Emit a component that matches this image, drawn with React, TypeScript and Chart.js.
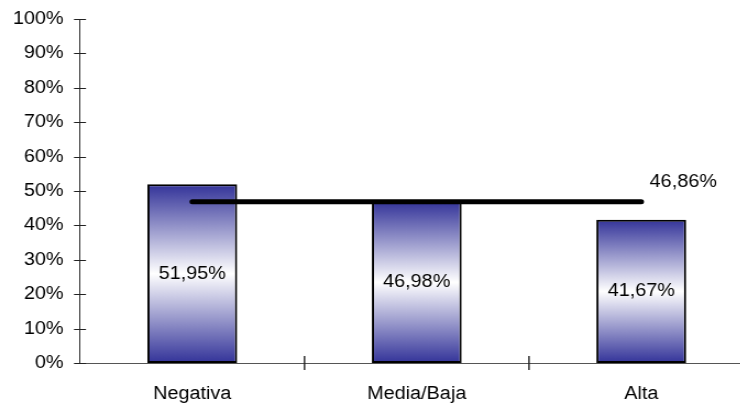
import React, { useEffect, useRef } from "react";
import { Chart, registerables } from "chart.js";

Chart.register(...registerables);

const categories = ["Negativa", "Media/Baja", "Alta"];
const values = [51.95, 46.98, 41.67];
const averageLine = [46.86, 46.86, 46.86];
const averageLabel = "46,86%";
const yTicks = [0, 10, 20, 30, 40, 50, 60, 70, 80, 90, 100];

const SX = 1.1; // horizontal stretch of the original picture
const FONT = "'Liberation Sans', Arial, sans-serif";

const fmt = (v: number) => v.toFixed(2).replace(".", ",") + "%";

export default function App() {
  const ref = useRef<HTMLCanvasElement | null>(null);

  useEffect(() => {
    const canvas = ref.current;
    if (!canvas) return;

    const gradientFill = (ctx: any) => {
      const chart = ctx.chart;
      const ys = chart.scales && chart.scales.y;
      if (!ys || ctx.raw == null) return "#333399";
      const p1 = ys.getPixelForValue(ctx.raw);
      const p0 = ys.getPixelForValue(0);
      const top = Math.min(p1, p0);
      const bot = Math.max(p1, p0);
      if (!isFinite(top) || !isFinite(bot) || bot - top < 1) return "#333399";
      const g = chart.ctx.createLinearGradient(0, top, 0, bot);
      g.addColorStop(0, "#333399");
      g.addColorStop(0.5, "#ffffff");
      g.addColorStop(1, "#333399");
      return g;
    };

    const decor = {
      id: "decor",
      afterDatasetsDraw(chart: any) {
        const ctx = chart.ctx;
        const x = chart.scales.x;
        const y = chart.scales.y;
        ctx.save();
        ctx.strokeStyle = "#222";
        ctx.lineWidth = 1;
        yTicks.forEach((t) => {
          const py = Math.round(y.getPixelForValue(t)) + 0.5;
          ctx.beginPath();
          ctx.moveTo(x.left - 6 / SX, py);
          ctx.lineTo(x.left + 6 / SX, py);
          ctx.stroke();
        });
        for (let i = 0; i < categories.length - 1; i++) {
          const px = (x.getPixelForValue(i) + x.getPixelForValue(i + 1)) / 2;
          ctx.beginPath();
          ctx.lineWidth = 1.4;
          ctx.moveTo(px, y.bottom - 7);
          ctx.lineTo(px, y.bottom + 7);
          ctx.stroke();
        }
        ctx.fillStyle = "#000";
        ctx.font = "18px " + FONT;
        ctx.textAlign = "center";
        ctx.textBaseline = "middle";
        const meta = chart.getDatasetMeta(0);
        meta.data.forEach((el: any, i: number) => {
          ctx.fillText(fmt(values[i]), el.x, (el.y + el.base) / 2);
        });
        const lm = chart.getDatasetMeta(1);
        const last = lm.data[lm.data.length - 1] as any;
        ctx.fillText(averageLabel, last.x + 42 / SX, last.y - 20);
        ctx.restore();
      },
    };

    const chart = new Chart(canvas, {
      type: "bar",
      data: {
        labels: categories,
        datasets: [
          {
            type: "bar",
            data: values,
            backgroundColor: gradientFill as any,
            borderColor: "#000",
            borderWidth: 2,
            borderSkipped: false,
            categoryPercentage: 1,
            barPercentage: 0.4,
            order: 1,
          },
          {
            type: "line",
            data: averageLine,
            borderColor: "#000",
            borderWidth: 5,
            borderCapStyle: "round",
            pointRadius: 0,
            fill: false,
            order: 0,
          } as any,
        ],
      },
      options: {
        responsive: false,
        maintainAspectRatio: false,
        devicePixelRatio: 1,
        animation: false,
        layout: { padding: { top: 19, right: 15, left: 0, bottom: 0 } },
        plugins: { legend: { display: false }, tooltip: { enabled: false } },
        scales: {
          x: {
            grid: { display: false, drawTicks: false },
            border: { display: true, color: "#555", width: 1 },
            ticks: {
              color: "#000",
              font: { family: FONT, size: 18 },
              padding: 20,
              maxRotation: 0,
            },
            afterFit(scale: any) {
              scale.height = 44;
              scale.paddingLeft = 0;
              scale.paddingRight = 0;
            },
          },
          y: {
            min: 0,
            max: 100,
            grid: { display: false, drawTicks: false },
            border: { display: true, color: "#333", width: 1 },
            ticks: {
              stepSize: 10,
              color: "#000",
              font: { family: FONT, size: 18 },
              padding: 15,
              callback: (v: any) => v + "%",
            },
            afterFit(scale: any) {
              scale.width = 80 / SX;
              scale.paddingTop = 0;
              scale.paddingBottom = 0;
            },
          },
        },
      },
      plugins: [decor],
    });

    return () => chart.destroy();
  }, []);

  return (
    <div
      style={{
        position: "fixed",
        left: 0,
        top: 0,
        width: 740,
        height: 407,
        overflow: "hidden",
        background: "#fff",
      }}
    >
      <div style={{ transform: `scaleX(${SX})`, transformOrigin: "0 0", width: 700, height: 407 }}>
        <canvas ref={ref} width={700} height={407} style={{ display: "block" }} />
      </div>
    </div>
  );
}
